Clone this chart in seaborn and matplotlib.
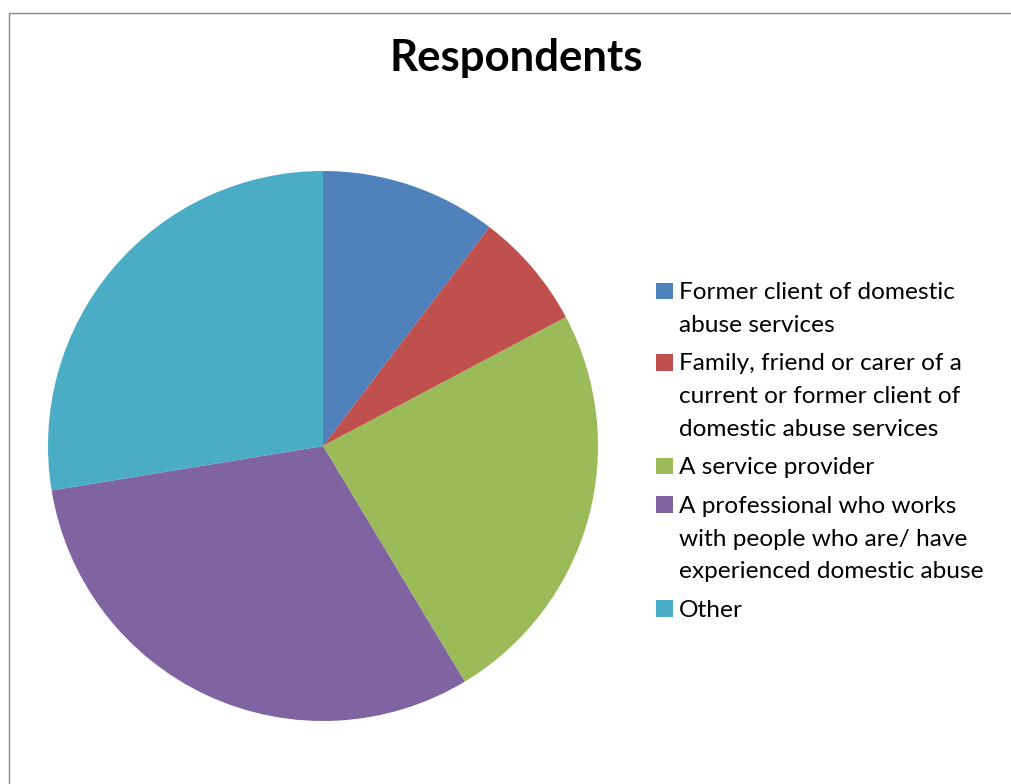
import matplotlib
matplotlib.use("Agg")
import matplotlib.pyplot as plt
from matplotlib.patches import Rectangle
import seaborn as sns

# Respondent groups and their counts
categories = [
    "Former client of domestic\nabuse services",
    "Family, friend or carer of a\ncurrent or former client of\ndomestic abuse services",
    "A service provider",
    "A professional who works\nwith people who are/ have\nexperienced domestic abuse",
    "Other",
]
counts = [3, 2, 7, 9, 8]
colors = ["#4F81BD", "#C0504D", "#9BBB59", "#8064A2", "#4BACC6"]
title = "Respondents"

sns.set_theme(style="white")
plt.rcParams["font.family"] = ["Lato", "DejaVu Sans"]

W, H = 1011, 784
fig = plt.figure(figsize=(W / 100, H / 100), dpi=100)
fig.patch.set_facecolor("white")


def fx(px):
    return px / W


def fy(py):
    return 1 - py / H


# chart-area frame (extends past the right and bottom edges)
fig.patches.append(Rectangle((fx(8.5), fy(H + 20)), 1.2, fy(13) - fy(H + 20),
                             transform=fig.transFigure, fill=False,
                             edgecolor="#898989", linewidth=1.0))

# pie plot area: centre (323, 446), radius 275 px
cx, cy, r = 323, 446, 275
ax = fig.add_axes([fx(cx - r), fy(cy + r), 2 * r / W, 2 * r / H])
ax.pie(counts, colors=colors, startangle=90, counterclock=False,
       radius=1.0, wedgeprops=dict(linewidth=0, antialiased=True))
ax.set_xlim(-1, 1)
ax.set_ylim(-1, 1)
ax.set_aspect("equal")
ax.axis("off")

fig.text(fx(516.5), fy(71.5), title, ha="center", va="baseline",
         fontsize=31.5, fontweight="bold", color="black")

# legend, handle aligned with the first line of each entry
box = 16.7
x_box, x_text = 656, 679.3
line_gap, entry_gap = 32.7, 38.5
y = 299.3
for label, col in zip(categories, colors):
    fig.patches.append(Rectangle((fx(x_box), fy(y)), box / W, box / H,
                                 transform=fig.transFigure, facecolor=col,
                                 edgecolor="none"))
    lines = label.split("\n")
    for i, line in enumerate(lines):
        fig.text(fx(x_text), fy(y + i * line_gap), line, ha="left",
                 va="baseline", fontsize=17.6, color="black")
    y += (len(lines) - 1) * line_gap + entry_gap

fig.savefig("out.png", dpi=100, facecolor="white")
